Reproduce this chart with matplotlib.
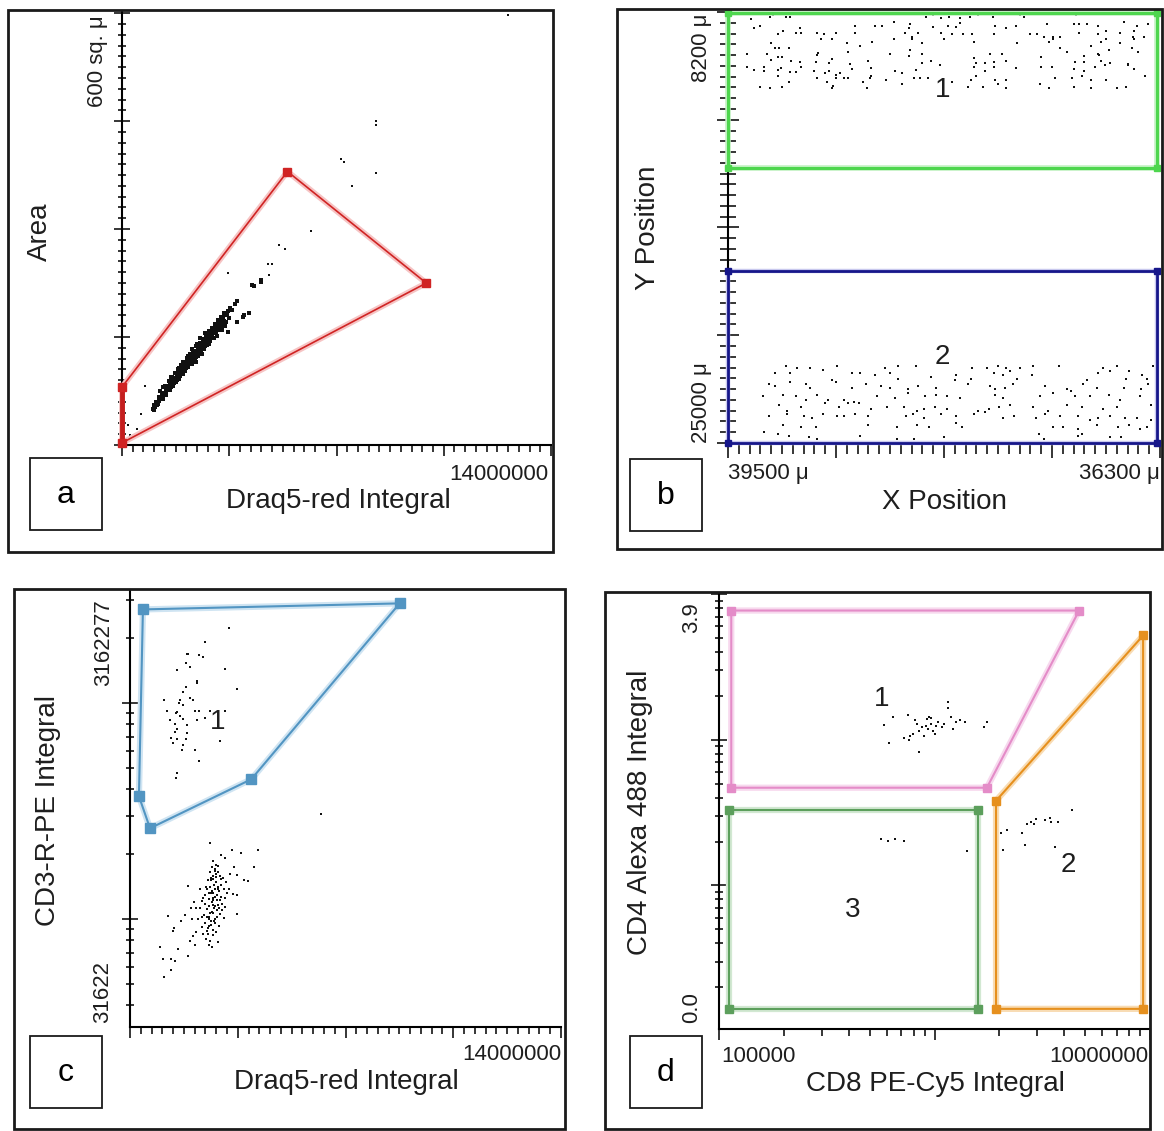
import numpy as np
import matplotlib
matplotlib.use("Agg")
import matplotlib.pyplot as plt
import matplotlib.patheffects as pe
from matplotlib.patches import Rectangle
from matplotlib.ticker import MultipleLocator, LogLocator, NullFormatter

plt.rcParams['font.family'] = ['Liberation Sans', 'DejaVu Sans']
TXT = '#1e1e1e'
W, H = 1164, 1131

# ---------------- panel a : Area vs Draq5-red Integral (x in millions)
a_gate_x = [0.0, 5.40, 9.93, 0.0]
a_gate_y = [80.5, 380, 225, 3]
a_band = [
    (1.00, 50), (1.03, 55), (1.08, 53), (1.12, 60), (1.15, 56), (1.20, 61), (1.22, 66), (1.27, 64),
    (1.30, 70), (1.32, 66), (1.36, 72), (1.38, 69), (1.42, 75), (1.45, 73), (1.47, 80), (1.50, 77),
    (1.53, 82), (1.55, 79), (1.58, 85), (1.60, 81), (1.62, 88), (1.65, 84), (1.68, 90), (1.70, 86),
    (1.72, 93), (1.75, 89), (1.78, 96), (1.80, 91), (1.82, 99), (1.85, 94), (1.88, 101), (1.90, 96),
    (1.92, 104), (1.95, 99), (1.97, 107), (2.00, 102), (2.02, 110), (2.05, 104), (2.08, 112), (2.10, 107),
    (2.12, 115), (2.15, 109), (2.18, 118), (2.20, 112), (2.22, 120), (2.25, 115), (2.28, 123), (2.30, 117),
    (2.32, 126), (2.35, 120), (2.38, 128), (2.40, 122), (2.42, 131), (2.45, 125), (2.48, 133), (2.50, 128),
    (2.52, 136), (2.55, 130), (2.58, 139), (2.60, 133), (2.62, 142), (2.65, 136), (2.68, 145), (2.70, 138),
    (2.72, 147), (2.75, 141), (2.78, 150), (2.80, 144), (2.82, 153), (2.85, 147), (2.88, 156), (2.90, 150),
    (2.92, 159), (2.95, 152), (2.98, 161), (3.00, 155), (3.02, 164), (3.05, 158), (3.08, 166), (3.10, 160),
    (3.13, 169), (3.15, 163), (3.18, 172), (3.20, 165), (3.23, 175), (3.27, 170), (3.30, 178), (3.33, 172),
    (3.37, 182), (3.42, 180), (3.45, 186), (3.52, 190), (3.60, 187), (3.68, 196), (3.75, 200),
    (1.40, 82), (1.60, 94), (1.75, 100), (1.85, 107), (2.00, 115), (2.15, 124), (2.30, 133), (2.45, 140),
    (2.55, 148), (2.70, 155), (2.40, 116), (2.60, 127), (2.85, 140), (3.00, 148), (3.10, 152), (3.25, 160),
    (3.35, 165), (3.75, 171), (3.98, 180), (4.14, 183), (4.24, 222), (4.53, 229), (3.46, 157), (3.94, 178),
    (4.30, 221), (4.53, 226),
    (1.05, 49), (1.18, 57), (1.33, 64), (1.43, 70), (1.57, 77), (1.67, 82), (1.77, 88), (1.87, 92),
    (1.99, 98), (2.07, 103), (2.17, 108), (2.27, 113), (2.37, 118), (2.47, 123), (2.57, 129), (2.67, 134),
    (2.77, 139), (2.87, 144), (2.97, 149), (3.07, 155), (3.17, 160), (3.28, 166), (3.38, 171), (3.48, 176),
    (1.25, 75), (1.35, 80), (1.52, 89), (1.63, 95), (1.73, 100), (1.83, 105), (1.93, 111), (2.03, 116),
    (2.13, 121), (2.23, 126), (2.33, 131), (2.43, 137), (2.53, 142), (2.63, 147), (2.73, 152), (2.83, 158),
    (2.93, 163), (3.03, 168), (3.13, 173), (3.23, 178), (3.33, 184),
    (1.44, 76), (1.64, 87), (1.84, 97), (2.04, 108), (2.24, 118), (2.44, 128), (2.64, 139), (2.84, 149),
    (3.04, 160), (3.24, 170), (1.54, 81), (1.74, 92), (1.94, 102), (2.14, 113), (2.34, 123), (2.54, 134),
    (2.74, 144), (2.94, 155), (3.14, 165),
]
a_sparse = [
    (3.46, 239), (4.75, 251), (4.91, 251), (4.79, 236), (5.11, 278), (5.33, 272), (6.18, 297),
    (7.15, 397), (7.24, 393), (7.50, 360), (8.28, 450), (8.28, 444), (8.28, 378), (12.6, 598),
    (0.19, 28), (0.26, 14), (0.48, 22), (0.61, 43), (0.74, 82),
]

# ---------------- panel b : Y Position vs X Position (micrometres)
b_gate1_x = [39500, 36320, 36320, 39500]
b_gate1_y = [8240, 8240, 14280, 14280]
b_gate2_x = [39500, 36320, 36320, 39500]
b_gate2_y = [18300, 18300, 25000, 25000]
b_top = [
    (39330, 8490), (39190, 8380), (39170, 8320), (39070, 8380), (39040, 8380), (38030, 8380), (37980, 8320),
    (37920, 8450), (37860, 8410), (37780, 8450), (37710, 8410), (37650, 8320), (37540, 8410), (37340, 8320),
    (37310, 8410), (36920, 8320),
    (39310, 8840), (39260, 8750), (38970, 8840), (38560, 8750), (38410, 8750), (38360, 8750), (38270, 8580),
    (38150, 8670), (38160, 8840), (37980, 8770), (37870, 8750), (37810, 8770), (37780, 8620), (37520, 8750),
    (37440, 8840), (37370, 8750), (37140, 8670), (36940, 8670), (36900, 8670), (36840, 8670), (36760, 8750),
    (36570, 8580), (36470, 8750), (36390, 8670),
    (39130, 9070), (39090, 8930), (39000, 9010), (38960, 9010), (38840, 9010), (38790, 9070), (38700, 9010),
    (38560, 9010), (38190, 9010), (38090, 9010), (38140, 9190), (37920, 9010), (37840, 9070), (37760, 9070),
    (37690, 9070), (37530, 9070), (37260, 9070), (37210, 9070), (37160, 9160), (37090, 9160), (37040, 9160),
    (36900, 9010), (36760, 9070), (36700, 8930), (36600, 9010), (36490, 8930), (36420, 9160), (36500, 9160),
    (39180, 9420), (38810, 9270), (38730, 9270), (38620, 9420), (38520, 9510), (38430, 9360), (38270, 9270),
    (38140, 9270), (38060, 9420), (37900, 9270), (37680, 9360), (37360, 9420), (37120, 9360), (37090, 9270),
    (36740, 9360), (36810, 9510), (36700, 9270), (36600, 9420), (36490, 9270),
    (39360, 9840), (39210, 9840), (39150, 9590), (39050, 9590), (39120, 9590), (38830, 9790), (38610, 9750),
    (38300, 9840), (38150, 9680), (38160, 9900), (38060, 9840), (37560, 9840), (37470, 9840), (37680, 10010),
    (37040, 9590), (36990, 9750), (36860, 9920), (36760, 9840), (36680, 9680), (36510, 9590), (36460, 9750),
    (39180, 10070), (39130, 9940), (39100, 9940), (39030, 10100), (38970, 10140), (38850, 10140), (38840, 9880),
    (38750, 10200), (38730, 10050), (38600, 10230), (38460, 10100), (38060, 10180), (38000, 10100),
    (37660, 10180), (37600, 10200), (37530, 10140), (37440, 10100), (37180, 9940), (36930, 10140),
    (36860, 10140), (36740, 10100), (36670, 10180), (36750, 9880), (36540, 10230),
    (39360, 10330), (39310, 10460), (39230, 10330), (39230, 10500), (39130, 10460), (39110, 10400),
    (39040, 10530), (39000, 10530), (38960, 10330), (38860, 10500), (38780, 10590), (38750, 10500),
    (38700, 10660), (38670, 10590), (38580, 10440), (38440, 10400), (38260, 10500), (38210, 10590),
    (38110, 10460), (37930, 10270), (37680, 10330), (37600, 10500), (37530, 10330), (37370, 10400),
    (37180, 10330), (37100, 10330), (36940, 10440), (36860, 10500), (36780, 10330), (36710, 10270),
    (36540, 10270), (36490, 10440),
    (39130, 10700), (39050, 10920), (38840, 10790), (38770, 10920), (38700, 10760), (38640, 10790),
    (38610, 10790), (38500, 10920), (38450, 10790), (38440, 10700), (38330, 10850), (38120, 10790),
    (38080, 10790), (38020, 10790), (37840, 10920), (37660, 10700), (37700, 10850), (37520, 10850),
    (37440, 10850), (37080, 10790), (36950, 10790), (36880, 10700), (36810, 10850), (36700, 10850),
    (36410, 10700),
    (39260, 11110), (39190, 11180), (39100, 11110), (38730, 11180), (38720, 11090), (38470, 11180),
    (38210, 11020), (37720, 11110), (37610, 11110), (37500, 11020), (37440, 11180), (37190, 11020),
    (37120, 11180), (36940, 11110), (36810, 11180), (36620, 11180), (36550, 11110),
]
b_bottom = [
    (39070, 22000), (38990, 22070), (38890, 22070), (38800, 22140), (38690, 22000), (38580, 22280),
    (38520, 22280), (38340, 22070), (38240, 22000), (38110, 22000), (37810, 22350), (37690, 22070),
    (37580, 22070), (37500, 22000), (37440, 22070), (37340, 22070), (37240, 22000), (37050, 22000),
    (36720, 22070), (36620, 22000), (36530, 22210), (36350, 22000),
    (39150, 22280), (39040, 22280), (38730, 22560), (38410, 22350), (38300, 22280), (38240, 22490),
    (38000, 22420), (37820, 22560), (37700, 22490), (37530, 22280), (37460, 22350), (37410, 22210),
    (37360, 22490), (37250, 22350), (36840, 22560), (36760, 22280), (36670, 22210), (36550, 22490),
    (36430, 22350), (36400, 22490),
    (39200, 22700), (39150, 22770), (39040, 22630), (38920, 22700), (38890, 22840), (38700, 22630),
    (38580, 22840), (38480, 22700), (38370, 22770), (38300, 22840), (38170, 22910), (38090, 22770),
    (37960, 22840), (37720, 22700), (37560, 22770), (37520, 22910), (37450, 22840), (37390, 22700),
    (37150, 22770), (36990, 22910), (36870, 22700), (36770, 22840), (36570, 22840), (36440, 22910),
    (36390, 22700),
    (39240, 23180), (39090, 23110), (39000, 23180), (38920, 23320), (38840, 23110), (38760, 23320),
    (38640, 23320), (38570, 23390), (38400, 23180), (38260, 23250), (38170, 23040), (38040, 23180),
    (37960, 23110), (37880, 23180), (37780, 23250), (37520, 23110), (37460, 23250), (37190, 23180),
    (37090, 23040), (36960, 22970), (36930, 23180), (36820, 23180), (36680, 23110), (36600, 23320),
    (36450, 23180),
    (39120, 23530), (39060, 23740), (38960, 23600), (38780, 23460), (38680, 23600), (38610, 23460),
    (38530, 23460), (38440, 23670), (38320, 23600), (38200, 23600), (38100, 23740), (38050, 23670),
    (37970, 23600), (37880, 23670), (37650, 23740), (37570, 23670), (37490, 23600), (37410, 23530),
    (37240, 23600), (37130, 23740), (36990, 23530), (36880, 23600), (36720, 23670), (36620, 23600),
    (36370, 23530),
    (39200, 23950), (39060, 23880), (38940, 23950), (38880, 24020), (38800, 23880), (38690, 23950),
    (38640, 23950), (38560, 23880), (38460, 23950), (38180, 23950), (38130, 23880), (38050, 24020),
    (37920, 23880), (37810, 23950), (37680, 23880), (37600, 23810), (37460, 24020), (37380, 23950),
    (37220, 24020), (37150, 23880), (37040, 23950), (36910, 23950), (36820, 24090), (36760, 24020),
    (36670, 23950), (36560, 24020), (36470, 24020), (36370, 24090),
    (39090, 24300), (38960, 24370), (38850, 24370), (38460, 24300), (38250, 24370), (38100, 24300),
    (38010, 24370), (37810, 24230), (37770, 24370), (37090, 24370), (37020, 24370), (36910, 24440),
    (36770, 24300), (36610, 24370), (36530, 24300), (36450, 24440), (36400, 24370),
    (39230, 24580), (39130, 24650), (39050, 24710), (38900, 24780), (38840, 24850), (38520, 24710),
    (38250, 24850), (38120, 24850), (37900, 24780), (37200, 24650), (37160, 24850), (36910, 24710),
    (36880, 24650), (36670, 24780), (36590, 24780),
]

# ---------------- panel c : CD3-R-PE Integral (log10) vs Draq5-red Integral (millions)
c_gate_x = [0.42, 8.76, 3.94, 0.65, 0.29]
c_gate_log = [6.435, 6.463, 5.648, 5.421, 5.569]
c_top = [
    (3.20, 6.347), (2.42, 6.282), (1.84, 6.227), (1.88, 6.227), (2.23, 6.222), (2.36, 6.213), (1.81, 6.185),
    (1.94, 6.167), (1.52, 6.153), (3.07, 6.157), (2.17, 6.102), (2.17, 6.093), (1.81, 6.074), (3.46, 6.065),
    (1.71, 6.051), (1.10, 6.014), (1.62, 6.014), (1.94, 6.023), (2.04, 6.014), (1.58, 6.000), (1.71, 5.991),
    (1.20, 5.963), (1.52, 5.958), (1.49, 5.954), (2.10, 5.963), (2.23, 5.963), (2.59, 5.963), (3.10, 5.963),
    (1.62, 5.940), (2.42, 5.931), (1.29, 5.921), (1.71, 5.926), (2.17, 5.921), (1.46, 5.903), (1.84, 5.898),
    (1.52, 5.880), (1.46, 5.866), (1.84, 5.861), (1.33, 5.838), (1.52, 5.833), (1.81, 5.833), (2.91, 5.824),
    (1.71, 5.806), (1.39, 5.815), (2.10, 5.782), (1.68, 5.782), (2.23, 5.731), (1.52, 5.676), (1.49, 5.653),
    (6.21, 5.486),
]
c_bottom = [
    (2.59, 5.352), (3.30, 5.319), (3.62, 5.306), (4.17, 5.319), (4.04, 5.241), (2.94, 5.296), (3.10, 5.282),
    (2.85, 5.245), (2.75, 5.222), (2.68, 5.185), (2.78, 5.194), (2.97, 5.185), (3.46, 5.204), (3.69, 5.181),
    (3.82, 5.176), (1.88, 5.153), (2.26, 5.139), (2.49, 5.139), (2.62, 5.120), (2.85, 5.139), (3.20, 5.139),
    (3.33, 5.116), (3.46, 5.111), (2.43, 5.111), (2.55, 5.093), (2.75, 5.102), (2.97, 5.102), (2.33, 5.083),
    (2.68, 5.065), (2.85, 5.065), (3.10, 5.056), (2.13, 5.051), (2.49, 5.046), (2.65, 5.032), (2.91, 5.023),
    (3.46, 5.023), (1.78, 5.019), (2.00, 5.000), (2.33, 5.009), (2.55, 5.009), (2.75, 5.000), (3.04, 5.005),
    (1.65, 4.991), (1.23, 5.014), (1.42, 4.958), (2.33, 4.963), (2.62, 4.972), (2.75, 4.981), (2.49, 4.944),
    (2.36, 4.931), (2.68, 4.926), (1.39, 4.944), (2.10, 4.880), (2.85, 4.894), (2.65, 4.870), (0.97, 4.870),
    (1.55, 4.861), (1.88, 4.829), (1.07, 4.815), (1.33, 4.815), (1.46, 4.806), (1.33, 4.764), (1.10, 4.731),
    (2.60, 5.15), (2.70, 5.12), (2.80, 5.17), (2.66, 5.08), (2.72, 5.05), (2.90, 5.13), (2.58, 5.06),
    (2.78, 5.21), (2.70, 5.20), (2.62, 5.18), (2.84, 5.09), (2.55, 5.12), (2.95, 5.16), (2.68, 5.03),
    (2.74, 4.99), (2.50, 5.01), (2.88, 5.05), (3.00, 5.07), (2.45, 5.07), (2.64, 4.99), (2.70, 4.95),
    (2.80, 5.25), (2.92, 5.20), (3.05, 5.14), (2.40, 5.02), (2.57, 4.97), (2.77, 5.14), (2.66, 5.24),
    (2.83, 5.01), (2.98, 5.04),
    (2.52, 5.18), (2.61, 5.22), (2.69, 5.27), (2.87, 5.22), (3.02, 5.19), (3.12, 5.17), (2.47, 5.15),
    (2.37, 5.10), (2.28, 5.05), (2.42, 4.98), (2.53, 4.93), (2.61, 4.90), (2.79, 4.94), (2.90, 4.97),
    (3.08, 5.10), (3.16, 5.12), (2.66, 5.13), (2.71, 5.09), (2.76, 5.06), (2.81, 5.11), (2.86, 5.15),
    (2.93, 5.09), (2.60, 5.03), (2.56, 5.00), (2.52, 4.96), (2.73, 5.16), (2.64, 5.19), (2.76, 5.23),
    (2.69, 5.10), (2.82, 5.04), (2.47, 4.91), (2.58, 4.88), (2.21, 5.00), (2.16, 4.94), (2.05, 4.92),
    (1.96, 4.90), (1.98, 5.05), (2.07, 5.08), (3.24, 5.21), (3.38, 5.24),
]

# ---------------- panel d : CD4 Alexa 488 Integral vs CD8 PE-Cy5 Integral (log/log)
d_gate1_x = [1.14e5, 4.69e6, 1.75e6, 1.14e5]
d_gate1_y = [770, 770, 46.8, 46.8]
d_gate2_x = [1.93e6, 9.29e6, 9.29e6, 1.93e6]
d_gate2_y = [38.1, 519, 1.42, 1.42]
d_gate3_x = [1.11e5, 1.59e6, 1.59e6, 1.11e5]
d_gate3_y = [33.0, 33.0, 1.42, 1.42]
d_pop1 = [
    (6.44e5, 144), (5.85e5, 127), (6.12e5, 94.8), (7.52e5, 148), (8.12e5, 136), (8.27e5, 129), (7.96e5, 109),
    (7.23e5, 102), (7.60e5, 100), (8.43e5, 115), (8.43e5, 82.4), (8.77e5, 122), (9.12e5, 125), (9.22e5, 138),
    (9.29e5, 118), (9.47e5, 144), (9.66e5, 129), (9.84e5, 115), (1.00e6, 109), (1.02e6, 125), (1.11e6, 129),
    (1.15e6, 180), (1.16e6, 165), (1.19e6, 144), (1.22e6, 118), (1.26e6, 132), (1.31e6, 136), (1.39e6, 132),
    (1.69e6, 122), (1.76e6, 132), (7.66e5, 106), (8.94e5, 106), (9.66e5, 140), (1.04e6, 132), (1.08e6, 122),
]
d_pop2 = [
    (2.03e6, 22.7), (2.16e6, 24.0), (2.08e6, 17.6), (2.54e6, 22.7), (2.62e6, 18.9), (2.69e6, 26.4),
    (2.79e6, 27.4), (2.90e6, 26.4), (2.96e6, 28.7), (3.26e6, 27.9), (3.43e6, 29.0), (3.48e6, 27.1),
    (3.73e6, 27.4), (3.62e6, 18.4), (4.33e6, 33.0),
]
d_pop3 = [(5.62e5, 20.8), (6.07e5, 20.3), (6.56e5, 20.8), (7.23e5, 20.3), (1.41e6, 17.2)]

# ------------------------------------------------------------------
fig = plt.figure(figsize=(W / 100, H / 100), dpi=100)
fig.patch.set_facecolor('white')


def px_axes(x0, y0, x1, y1):
    return fig.add_axes([x0 / W, 1 - y1 / H, (x1 - x0) / W, (y1 - y0) / H])


def ftext(x, y, s, **kw):
    kw.setdefault('color', TXT)
    fig.text(x / W, 1 - y / H, s, **kw)


def frame(x0, y0, x1, y1, lw=2.0):
    fig.add_artist(Rectangle((x0 / W, 1 - y1 / H), (x1 - x0) / W, (y1 - y0) / H,
                             transform=fig.transFigure, fill=False, lw=lw, ec='#1a1a1a'))


def letter_box(x0, y0, s):
    frame(x0, y0, x0 + 72, y0 + 72, lw=1.3)
    ftext(x0 + 36, y0 + 37, s, fontsize=23, ha='center', va='center', color='black')


def style(ax, xlen=(8, 5), ylen=(12, 6)):
    for s in ('top', 'right'):
        ax.spines[s].set_visible(False)
    for s in ('left', 'bottom'):
        ax.spines[s].set_linewidth(1.5)
    ax.tick_params(axis='x', which='major', direction='out', length=xlen[0], width=1.1)
    ax.tick_params(axis='x', which='minor', direction='out', length=xlen[1], width=1.1)
    ax.tick_params(axis='y', which='major', direction='inout', length=ylen[0], width=1.1)
    ax.tick_params(axis='y', which='minor', direction='inout', length=ylen[1], width=1.1)
    ax.tick_params(which='both', labelleft=False, labelbottom=False)


def gate(ax, xs, ys, color, halo, lw=1.4, ms=5.5, glow=3):
    xx = list(xs) + [xs[0]]
    yy = list(ys) + [ys[0]]
    ax.plot(xx, yy, color=color, lw=lw, clip_on=False, zorder=3,
            path_effects=[pe.Stroke(linewidth=lw + glow, foreground=halo), pe.Normal()])
    ax.plot(xs, ys, ls='none', marker='s', ms=ms, color=color, clip_on=False, zorder=4)


def dots(ax, pts, xscale=1.0, logy=False, s=4):
    arr = np.array(pts, dtype=float)
    x = arr[:, 0] * xscale
    y = 10 ** arr[:, 1] if logy else arr[:, 1]
    ax.scatter(x, y, s=s, marker='s', c='#111111', linewidths=0, zorder=2, clip_on=False)


# ---- panel a
frame(8, 10, 553, 552)
ax = px_axes(122, 11, 551, 445)
style(ax)
ax.set_xlim(0, 14e6)
ax.set_ylim(0, 603)
ax.xaxis.set_major_locator(MultipleLocator(3.5e6))
ax.xaxis.set_minor_locator(MultipleLocator(3.5e5))
ax.yaxis.set_major_locator(MultipleLocator(150))
ax.yaxis.set_minor_locator(MultipleLocator(15))
dots(ax, a_band, 1e6, s=6)
dots(ax, a_sparse, 1e6)
gx = np.array(a_gate_x) * 1e6
gate(ax, gx, a_gate_y, '#d02424', '#f6c4c4', lw=1.2, ms=6)
ax.plot([gx[0], gx[-1]], [a_gate_y[0], a_gate_y[-1]], color='#c41e1e', lw=3.5,
        clip_on=False, zorder=3)
ftext(97, 15, '600 sq. μ', fontsize=16, rotation=90, ha='center', va='top')
ftext(548, 474, '14000000', fontsize=16, ha='right', va='center')
ftext(40, 232, 'Area', fontsize=20, rotation=90, ha='center', va='center')
ftext(338, 501, 'Draq5-red Integral', fontsize=20, ha='center', va='center')
letter_box(30, 458, 'a')

# ---- panel b
frame(617, 9, 1162, 549)
ax = px_axes(728, 12, 1160, 443)
style(ax, xlen=(11, 8), ylen=(16, 11))
ax.set_xlim(39500, 36300)
ax.set_ylim(25000, 8200)
ax.xaxis.set_major_locator(MultipleLocator(800, offset=300))
ax.xaxis.set_minor_locator(MultipleLocator(80, offset=60))
ax.yaxis.set_major_locator(MultipleLocator(4200, offset=4000))
ax.yaxis.set_minor_locator(MultipleLocator(420, offset=220))
dots(ax, b_top)
dots(ax, b_bottom)
gate(ax, b_gate1_x, b_gate1_y, '#4ed64e', '#c2f2c2', lw=2.2, ms=5, glow=1.8)
gate(ax, b_gate2_x, b_gate2_y, '#16168a', '#c8c8ee', lw=2.0, ms=5, glow=1.2)
ax.text(37910, 11240, '1', fontsize=20, ha='center', va='center', color=TXT)
ax.text(37910, 21650, '2', fontsize=20, ha='center', va='center', color=TXT)
ftext(702, 14, '8200 μ', fontsize=16, rotation=90, ha='center', va='top')
ftext(702, 443, '25000 μ', fontsize=16, rotation=90, ha='center', va='bottom')
ftext(728, 473, '39500 μ', fontsize=16, ha='left', va='center')
ftext(1160, 473, '36300 μ', fontsize=16, ha='right', va='center')
ftext(648, 228, 'Y Position', fontsize=20, rotation=90, ha='center', va='center')
ftext(944, 502, 'X Position', fontsize=20, ha='center', va='center')
letter_box(630, 459, 'b')

# ---- panel c
frame(14, 589, 565, 1129)
ax = px_axes(130, 590, 561, 1027)
style(ax)
ax.set_xlim(0, 14e6)
ax.set_yscale('log')
ax.set_ylim(10 ** 4.5, 10 ** 6.525)
ax.xaxis.set_major_locator(MultipleLocator(3.5e6))
ax.xaxis.set_minor_locator(MultipleLocator(3.5e5))
ax.yaxis.set_major_locator(LogLocator(base=10))
ax.yaxis.set_minor_locator(LogLocator(base=10, subs=np.arange(2, 10)))
ax.yaxis.set_minor_formatter(NullFormatter())
ax.tick_params(which='both', labelleft=False)
dots(ax, c_top, 1e6, logy=True)
dots(ax, c_bottom, 1e6, logy=True)
gate(ax, np.array(c_gate_x) * 1e6, 10 ** np.array(c_gate_log), '#5295c2', '#cfe4f2', lw=1.5, ms=6.5)
ax.text(2.85e6, 8.2e5, '1', fontsize=20, ha='center', va='center', color=TXT)
ftext(104, 599, '3162277', fontsize=16, rotation=90, ha='center', va='top')
ftext(103, 1023, '31622', fontsize=16, rotation=90, ha='center', va='bottom')
ftext(561, 1055, '14000000', fontsize=16, ha='right', va='center')
ftext(48, 810, 'CD3-R-PE Integral', fontsize=20, rotation=90, ha='center', va='center')
ftext(346, 1082, 'Draq5-red Integral', fontsize=20, ha='center', va='center')
letter_box(30, 1036, 'c')

# ---- panel d
frame(605, 592, 1150, 1129)
ax = px_axes(719, 594, 1150, 1029)
style(ax)
ax.set_xscale('log')
ax.set_yscale('log')
ax.set_xlim(1e5, 1e7)
ax.set_ylim(10 ** 0.014, 10 ** 3.0)
for axis in (ax.xaxis, ax.yaxis):
    axis.set_major_locator(LogLocator(base=10))
    axis.set_minor_locator(LogLocator(base=10, subs=np.arange(2, 10)))
    axis.set_minor_formatter(NullFormatter())
ax.tick_params(which='both', labelleft=False, labelbottom=False)
dots(ax, d_pop1)
dots(ax, d_pop2)
dots(ax, d_pop3)
gate(ax, d_gate1_x, d_gate1_y, '#e48cc8', '#f7d9ee', lw=1.5, ms=5.5)
gate(ax, d_gate2_x, d_gate2_y, '#e6901e', '#f8dcb4', lw=1.5, ms=5.5)
gate(ax, d_gate3_x, d_gate3_y, '#5c9f5c', '#d2e8d2', lw=1.5, ms=5.5)
ax.text(5.7e5, 191, '1', fontsize=20, ha='center', va='center', color=TXT)
ax.text(4.2e6, 13.8, '2', fontsize=20, ha='center', va='center', color=TXT)
ax.text(4.19e5, 6.8, '3', fontsize=20, ha='center', va='center', color=TXT)
ftext(692, 602, '3.9', fontsize=16, rotation=90, ha='center', va='top')
ftext(692, 1023, '0.0', fontsize=16, rotation=90, ha='center', va='bottom')
ftext(721, 1057, '100000', fontsize=16, ha='left', va='center')
ftext(1148, 1057, '10000000', fontsize=16, ha='right', va='center')
ftext(640, 812, 'CD4 Alexa 488 Integral', fontsize=20, rotation=90, ha='center', va='center')
ftext(935, 1084, 'CD8 PE-Cy5 Integral', fontsize=20, ha='center', va='center')
letter_box(630, 1036, 'd')

fig.savefig('out.png', dpi=100, facecolor='white')
